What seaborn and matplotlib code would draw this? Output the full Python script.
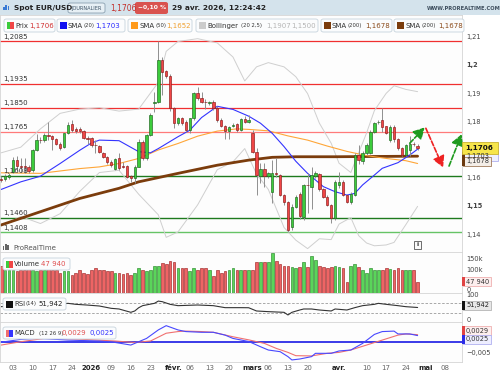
import numpy as np
import pandas as pd
import matplotlib
matplotlib.use("Agg")
import matplotlib.pyplot as plt
import seaborn as sns
from matplotlib.patches import Rectangle, FancyBboxPatch

# ---- data (daily EUR/USD, 28 nov 2025 -> 29 avr 2026) ----
first_day = "2025-11-28"
holidays = ["2025-12-25", "2026-01-01"]

opens = [1.1598, 1.1596, 1.1605, 1.1623, 1.1665, 1.1643, 1.1641, 1.1640, 1.1629, 1.1700,
         1.1737, 1.1734, 1.1752, 1.1749, 1.1738, 1.1723, 1.1712, 1.1761, 1.1792, 1.1775,
         1.1773, 1.1768, 1.1742, 1.1742, 1.1718, 1.1714, 1.1688, 1.1676, 1.1658, 1.1632,
         1.1670, 1.1643, 1.1643, 1.1608, 1.1600, 1.1641, 1.1729, 1.1670, 1.1753, 1.1868,
         1.1872, 1.2019, 1.1980, 1.1963, 1.1848, 1.1797, 1.1812, 1.1800, 1.1771, 1.1812,
         1.1901, 1.1885, 1.1872, 1.1866, 1.1871, 1.1850, 1.1806, 1.1785, 1.1768, 1.1786,
         1.1792, 1.1771, 1.1811, 1.1800, 1.1761, 1.1694, 1.1609, 1.1631, 1.1609, 1.1552,
         1.1617, 1.1611, 1.1540, 1.1517, 1.1425, 1.1499, 1.1545, 1.1463, 1.1576, 1.1570,
         1.1609, 1.1615, 1.1560, 1.1534, 1.1505, 1.1458, 1.1576, 1.1588, 1.1540, 1.1517,
         1.1540, 1.1682, 1.1660, 1.1688, 1.1690, 1.1765, 1.1798, 1.1806, 1.1785, 1.1735,
         1.1782, 1.1738, 1.1706, 1.1682, 1.1700, 1.1722, 1.1714]
highs = [1.1608, 1.1615, 1.1618, 1.1676, 1.1678, 1.1670, 1.1670, 1.1645, 1.1705, 1.1758,
         1.1745, 1.1760, 1.1800, 1.1752, 1.1742, 1.1728, 1.1762, 1.1798, 1.1806, 1.1782,
         1.1780, 1.1772, 1.1748, 1.1745, 1.1735, 1.1718, 1.1692, 1.1680, 1.1665, 1.1672,
         1.1688, 1.1656, 1.1648, 1.1612, 1.1645, 1.1738, 1.1735, 1.1758, 1.1830, 1.1907,
         1.2085, 1.2030, 1.1985, 1.1970, 1.1852, 1.1818, 1.1818, 1.1805, 1.1815, 1.1905,
         1.1925, 1.1905, 1.1880, 1.1875, 1.1876, 1.1856, 1.1815, 1.1790, 1.1785, 1.1795,
         1.1796, 1.1815, 1.1822, 1.1824, 1.1770, 1.1706, 1.1655, 1.1653, 1.1622, 1.1664,
         1.1670, 1.1615, 1.1545, 1.1520, 1.1510, 1.1540, 1.1552, 1.1580, 1.1617, 1.1640,
         1.1625, 1.1620, 1.1565, 1.1540, 1.1510, 1.1595, 1.1623, 1.1595, 1.1545, 1.1550,
         1.1690, 1.1718, 1.1695, 1.1725, 1.1770, 1.1800, 1.1806, 1.1848, 1.1786, 1.1788,
         1.1788, 1.1744, 1.1710, 1.1720, 1.1748, 1.1728, 1.1720]
lows = [1.1585, 1.1590, 1.1598, 1.1618, 1.1625, 1.1623, 1.1617, 1.1620, 1.1622, 1.1695,
        1.1725, 1.1730, 1.1735, 1.1700, 1.1718, 1.1700, 1.1706, 1.1755, 1.1765, 1.1762,
        1.1762, 1.1738, 1.1722, 1.1712, 1.1688, 1.1690, 1.1672, 1.1652, 1.1638, 1.1628,
        1.1630, 1.1635, 1.1600, 1.1585, 1.1582, 1.1638, 1.1665, 1.1665, 1.1750, 1.1835,
        1.1868, 1.1895, 1.1955, 1.1840, 1.1777, 1.1790, 1.1790, 1.1765, 1.1762, 1.1808,
        1.1878, 1.1865, 1.1845, 1.1860, 1.1843, 1.1800, 1.1780, 1.1738, 1.1740, 1.1780,
        1.1765, 1.1766, 1.1795, 1.1795, 1.1688, 1.1540, 1.1582, 1.1570, 1.1600, 1.1511,
        1.1605, 1.1535, 1.1505, 1.1410, 1.1415, 1.1495, 1.1455, 1.1450, 1.1475, 1.1490,
        1.1600, 1.1555, 1.1528, 1.1500, 1.1442, 1.1450, 1.1564, 1.1535, 1.1511, 1.1510,
        1.1535, 1.1650, 1.1652, 1.1682, 1.1685, 1.1760, 1.1792, 1.1765, 1.1755, 1.1730,
        1.1730, 1.1700, 1.1678, 1.1678, 1.1680, 1.1715, 1.1700]
closes = [1.1594, 1.1608, 1.1612, 1.1665, 1.1643, 1.1641, 1.1640, 1.1627, 1.1700, 1.1735,
          1.1734, 1.1753, 1.1749, 1.1738, 1.1723, 1.1706, 1.1759, 1.1789, 1.1771, 1.1768,
          1.1768, 1.1741, 1.1740, 1.1718, 1.1717, 1.1694, 1.1676, 1.1658, 1.1645, 1.1668,
          1.1635, 1.1640, 1.1605, 1.1600, 1.1640, 1.1729, 1.1670, 1.1753, 1.1824, 1.1872,
          1.2019, 1.1978, 1.1962, 1.1848, 1.1795, 1.1812, 1.1797, 1.1771, 1.1812, 1.1901,
          1.1883, 1.1871, 1.1869, 1.1869, 1.1848, 1.1806, 1.1785, 1.1768, 1.1780, 1.1789,
          1.1771, 1.1811, 1.1799, 1.1808, 1.1694, 1.1610, 1.1631, 1.1609, 1.1617, 1.1617,
          1.1615, 1.1540, 1.1517, 1.1416, 1.1499, 1.1534, 1.1465, 1.1576, 1.1574, 1.1611,
          1.1617, 1.1560, 1.1534, 1.1505, 1.1458, 1.1588, 1.1588, 1.1540, 1.1517, 1.1544,
          1.1682, 1.1665, 1.1688, 1.1718, 1.1765, 1.1794, 1.1801, 1.1780, 1.1761, 1.1782,
          1.1738, 1.1706, 1.1682, 1.1717, 1.1720, 1.1721, 1.1706]
volumes_k = [121, 101, 101, 101, 97, 101, 101, 109, 101, 97,
             101, 101, 109, 101, 101, 91, 97, 97, 79, 91,
             101, 91, 86, 101, 109, 101, 103, 97, 97, 91,
             91, 86, 91, 82, 91, 109, 101, 97, 100, 121,
             121, 132, 127, 142, 136, 113, 113, 113, 97, 113,
             101, 109, 112, 101, 76, 101, 91, 97, 101, 109,
             101, 101, 101, 101, 101, 139, 136, 139, 136, 177,
             142, 130, 121, 121, 116, 109, 115, 139, 115, 166,
             147, 121, 115, 109, 115, 121, 116, 113, 51, 121,
             127, 116, 104, 91, 109, 101, 101, 101, 112, 106,
             101, 112, 101, 100, 100, 101, 47.94]

# indicator lines, sampled at candle numbers
sma20_at = [0, 5, 10, 15, 20, 23, 25, 30, 35, 38, 40, 45, 48, 51, 55, 59, 63, 66, 69,
            72, 75, 78, 82, 85, 88, 90, 92, 95, 97, 101, 104, 106]
sma20 = [1.1560, 1.1587, 1.1607, 1.1652, 1.1699, 1.1725, 1.1735, 1.1733, 1.1694, 1.1690,
         1.1705, 1.1747, 1.1770, 1.1815, 1.1855, 1.1844, 1.1820, 1.1795, 1.1759, 1.1712,
         1.1660, 1.1617, 1.1570, 1.1552, 1.1540, 1.1546, 1.1576, 1.1611, 1.1635, 1.1655,
         1.1682, 1.1703]
sma50_at = [0, 10, 20, 25, 30, 35, 40, 45, 50, 55, 60, 63, 68, 73, 78, 83, 88, 93, 98, 103, 106]
sma50 = [1.1619, 1.1617, 1.1634, 1.1640, 1.1652, 1.1670, 1.1700, 1.1723, 1.1749, 1.1767,
         1.1775, 1.1773, 1.1768, 1.1750, 1.1735, 1.1714, 1.1695, 1.1680, 1.1670, 1.1662, 1.1652]
sma200_at = [0, 10, 20, 30, 35, 45, 55, 63, 69, 75, 85, 95, 106]
sma200 = [1.1434, 1.1481, 1.1528, 1.1564, 1.1587, 1.1617, 1.1646, 1.1664, 1.1674, 1.1676,
          1.1676, 1.1677, 1.1678]
boll_at = [0, 5, 10, 15, 20, 25, 30, 35, 40, 42, 45, 50, 55, 59, 62, 65, 68, 72, 75, 78,
           81, 84, 86, 89, 91, 93, 95, 98, 100, 103, 106]
boll_up = [1.1690, 1.1710, 1.1775, 1.1830, 1.1845, 1.1850, 1.1838, 1.1845, 1.1940, 1.2050,
           1.2085, 1.2095, 1.2080, 1.2030, 1.1945, 1.1995, 1.2010, 1.1995, 1.1960, 1.1900,
           1.1795, 1.1724, 1.1653, 1.1620, 1.1690, 1.1760, 1.1840, 1.1901, 1.1928, 1.1915, 1.1907]
boll_low = [1.1430, 1.1464, 1.1439, 1.1474, 1.1553, 1.1620, 1.1628, 1.1543, 1.1470, 1.1390,
            1.1409, 1.1505, 1.1630, 1.1658, 1.1705, 1.1615, 1.1560, 1.1425, 1.1380, 1.1350,
            1.1385, 1.1382, 1.1437, 1.1460, 1.1396, 1.1370, 1.1360, 1.1363, 1.1372, 1.1435, 1.1500]
rsi_at = [0, 5, 10, 15, 17, 19, 22, 25, 28, 30, 33, 34, 35, 36, 39, 40, 41, 43, 45, 50, 54,
          57, 61, 63, 65, 68, 72, 73, 74, 76, 77, 79, 81, 84, 85, 88, 90, 92, 95, 96, 98,
          101, 103, 106]
rsi = [55, 62, 66, 65, 67.5, 63.8, 61, 57.5, 48.8, 46.3, 33.8, 38.8, 51, 58.8, 67.5, 76,
       73.8, 63.8, 58.8, 61.3, 58.8, 51.3, 51.3, 51, 38.8, 36.3, 33.8, 23.8, 33.8, 42.5,
       46.3, 46.3, 42.5, 38.8, 46.3, 42.5, 51.3, 58.8, 63.8, 67.5, 63.8, 58.8, 55, 51.94]
macd_at = [0, 5, 9, 12, 17, 25, 29, 33, 37, 40, 42, 45, 47, 51, 54, 57, 59, 63, 66, 68,
           71, 73, 74, 76, 79, 80, 84, 86, 89, 92, 95, 97, 100, 101, 104, 106]
macd = [-0.0003, 0.0009, 0.0013, 0.0011, 0.0006, 0.0002, -0.0004, -0.0015, 0.0013, 0.0049,
        0.0067, 0.0049, 0.0042, 0.0039, 0.0039, 0.0027, 0.0013, 0.0000, -0.0022, -0.0036,
        -0.0043, -0.0064, -0.0078, -0.0074, -0.0064, -0.0050, -0.0050, -0.0040, -0.0036,
        -0.0008, 0.0030, 0.0042, 0.0044, 0.0032, 0.0032, 0.0025]
signal_at = [0, 5, 11, 20, 29, 34, 38, 42, 45, 47, 51, 54, 59, 63, 67, 70, 73, 75, 79, 83,
             86, 89, 93, 97, 101, 103, 106]
signal = [-0.0015, -0.0001, 0.0013, 0.0010, 0.0002, -0.0004, 0.0002, 0.0035, 0.0042, 0.0044,
          0.0042, 0.0039, 0.0020, 0.0007, -0.0008, -0.0029, -0.0046, -0.0060, -0.0061,
          -0.0050, -0.0046, -0.0036, -0.0015, 0.0006, 0.0027, 0.0032, 0.0029]

resistances = [1.2085, 1.1935, 1.1850, 1.1765]
supports = [1.1608, 1.1460, 1.1408]

# drawn scenario arrows: (start candle, start price, end candle, end price)
arrows = [(104.0, 1.1724, 107.8, 1.1780),
          (108.1, 1.1777, 112.5, 1.1638),
          (114.0, 1.1643, 117.2, 1.1756)]

tick_dates = ["2025-12-03", "2025-12-10", "2025-12-17", "2025-12-24", "2026-01-02",
              "2026-01-09", "2026-01-16", "2026-01-23", "2026-02-02", "2026-02-06",
              "2026-02-13", "2026-02-20", "2026-03-02", "2026-03-06", "2026-03-13",
              "2026-03-20", "2026-04-01", "2026-04-10", "2026-04-17", "2026-04-24",
              "2026-05-01", "2026-05-08"]
tick_labels = ["03", "10", "17", "24", "2026", "09", "16", "23", "févr.", "06", "13", "20",
               "mars", "06", "13", "20", "avr.", "10", "17", "24", "mai", "08"]

# ---------------------------------------------------------------------------
sns.set_theme(style="white")
plt.rcParams["font.family"] = ["DejaVu Sans"]

W, H = 500, 375
fig = plt.figure(figsize=(5, 3.75), dpi=100)
fig.patch.set_facecolor("white")


def fbox(x0, y0, x1, y1):
    return [x0 / W, 1 - y1 / H, (x1 - x0) / W, (y1 - y0) / H]


def ftext(x, y, s, **kw):
    kw.setdefault("fontsize", 5)
    kw.setdefault("va", "center")
    kw.setdefault("color", "#333333")
    fig.text(x / W, 1 - y / H, s, zorder=8, **kw)


def frect(x0, y0, x1, y1, fc, ec="none", lw=0.6, rounded=False, z=6):
    if rounded:
        p = FancyBboxPatch((x0 / W, 1 - y1 / H), (x1 - x0) / W, (y1 - y0) / H,
                           boxstyle="round,pad=0,rounding_size=0.005",
                           transform=fig.transFigure, fc=fc, ec=ec, lw=lw, zorder=z)
    else:
        p = Rectangle((x0 / W, 1 - y1 / H), (x1 - x0) / W, (y1 - y0) / H,
                      transform=fig.transFigure, fc=fc, ec=ec, lw=lw, zorder=z)
    fig.add_artist(p)


dates = pd.bdate_range(first_day, "2026-05-15")
dates = dates[~dates.isin(pd.to_datetime(holidays))]
day_pos = {d.strftime("%Y-%m-%d"): i for i, d in enumerate(dates)}
xt = [day_pos[d] for d in tick_dates]

ax_p = fig.add_axes(fbox(0, 15, 462, 252))
ax_v = fig.add_axes(fbox(0, 252, 462, 293), sharex=ax_p)
ax_r = fig.add_axes(fbox(0, 293, 462, 322), sharex=ax_p)
ax_m = fig.add_axes(fbox(0, 322, 462, 362), sharex=ax_p)

for ax in (ax_p, ax_v, ax_r, ax_m):
    ax.set_facecolor("#fdfdfd")
    for s in ax.spines.values():
        s.set_color("#d5d5d5")
        s.set_linewidth(0.6)
    ax.tick_params(left=False, right=False, bottom=False, labelleft=False,
                   labelbottom=False, length=0)
    ax.set_yticks([])
    ax.set_xlim(-0.3, 117.3)

idx = np.arange(len(closes))
o, h, l, c = map(np.array, (opens, highs, lows, closes))
up = c >= o

# ---- price panel ----
ax_p.set_ylim(1.1338, 1.2179)
for lvl in resistances:
    col = "#ff7a7a" if lvl == 1.1765 else "#f03030"
    ax_p.axhline(lvl, color=col, lw=0.9, zorder=1)
for lvl in supports:
    col = "#66c466" if lvl == 1.1408 else "#1e7a1e"
    ax_p.axhline(lvl, color=col, lw=1.0, zorder=1)
for lvl in resistances + supports:
    ax_p.annotate(f"{lvl:.4f}".replace(".", ","), xy=(0.006, lvl),
                  xycoords=("axes fraction", "data"), xytext=(0, 1.2),
                  textcoords="offset points", va="bottom", ha="left",
                  fontsize=5, color="#333333", zorder=6)

sns.lineplot(x=boll_at, y=boll_up, ax=ax_p, color="#cfcfcf", lw=0.7, zorder=2)
sns.lineplot(x=boll_at, y=boll_low, ax=ax_p, color="#cfcfcf", lw=0.7, zorder=2)
sns.lineplot(x=sma200_at, y=sma200, ax=ax_p, color="#7b3c0c", lw=2.0, zorder=2)
sns.lineplot(x=sma50_at, y=sma50, ax=ax_p, color="#ffa638", lw=0.8, zorder=2)
sns.lineplot(x=sma20_at, y=sma20, ax=ax_p, color="#3434ff", lw=0.8, zorder=2)

ax_p.vlines(idx, l, h, color="#8f8f8f", lw=0.7, zorder=3)
body = np.maximum(np.abs(c - o), 0.00018)
ax_p.bar(idx[up], body[up], bottom=np.minimum(o, c)[up], width=0.62,
         color="#3ccc3c", edgecolor="#1d641d", lw=0.45, zorder=4)
ax_p.bar(idx[~up], body[~up], bottom=np.minimum(o, c)[~up], width=0.62,
         color="#f04646", edgecolor="#8a1818", lw=0.45, zorder=4)

arrow_cols = ["#1f9a1f", "#ee2222", "#1f9a1f"]
for (x0, y0, x1, y1), col in zip(arrows, arrow_cols):
    ax_p.annotate("", xy=(x1, y1), xytext=(x0, y0), annotation_clip=False,
                  arrowprops=dict(arrowstyle="-|>,head_length=0.55,head_width=0.3",
                                  color=col, lw=1.2, linestyle=(0, (3, 1.2)),
                                  shrinkA=0, shrinkB=0), zorder=5)

ax_p.set_ylabel("")
ax_p.set_xlabel("")


def rlabel(ax, y, s, dy=0, **kw):
    kw.setdefault("fontsize", 4.8)
    kw.setdefault("color", "#444444")
    ax.annotate(s, xy=(1, y), xycoords=("axes fraction", "data"), xytext=(3.3, dy),
                textcoords="offset points", va="center", ha="left",
                annotation_clip=False, **kw)


for v, s in [(1.21, "1,21"), (1.20, "1,2"), (1.19, "1,19"), (1.18, "1,18"),
             (1.16, "1,16"), (1.15, "1,15"), (1.14, "1,14")]:
    rlabel(ax_p, v, s, fontweight="bold" if s in ("1,2", "1,15") else "normal")

# ---- volume ----
vol = np.array(volumes_k) * 1000
ax_v.set_ylim(0, 182000)
ax_v.bar(idx[up], vol[up], width=0.7, color="#5ad55a", edgecolor="#2a8a2a", lw=0.45)
ax_v.bar(idx[~up], vol[~up], width=0.7, color="#ee6464", edgecolor="#a02828", lw=0.45)
rlabel(ax_v, 150000, "150k")
rlabel(ax_v, 100000, "100k")
rlabel(ax_v, 0, "0", dy=2.5)

# ---- RSI ----
ax_r.set_ylim(-2.6, 106.4)
ax_r.axhline(70, color="#9a9a9a", lw=0.6, ls=(0, (3, 2)))
ax_r.axhline(30, color="#9a9a9a", lw=0.6, ls=(0, (3, 2)))
sns.lineplot(x=rsi_at, y=rsi, ax=ax_r, color="#333333", lw=0.8)
rlabel(ax_r, 100, "100", dy=-0.5)
rlabel(ax_r, 0, "0", dy=1)

# ---- MACD ----
ax_m.set_ylim(-0.00867, 0.00825)
ax_m.axhline(0, color="#2b2be6", lw=1.3)
sns.lineplot(x=signal_at, y=signal, ax=ax_m, color="#f07070", lw=0.8)
sns.lineplot(x=macd_at, y=macd, ax=ax_m, color="#4848ff", lw=0.8)
rlabel(ax_m, -0.005, "\u22120,005", dy=0)

for ax in (ax_v, ax_r, ax_m):
    ax.set_ylabel("")
    ax.set_xlabel("")

ax_m.set_xticks(xt)
ax_m.set_xticklabels(tick_labels)
ax_m.tick_params(labelbottom=True, bottom=False, length=0, pad=2.0, labelsize=5,
                 labelcolor="#666666")
for t in ax_m.get_xticklabels():
    if not t.get_text().isdigit() or t.get_text() == "2026":
        t.set_fontweight("bold")
        t.set_color("#222222")
ax_m.set_xlim(-0.3, 117.3)

# ---- header ----
frect(0, 0, 500, 15, "#d4e3ec", z=6)
for k, hh in enumerate([3, 5, 4]):
    frect(3 + 2.4 * k, 10 - hh, 4.6 + 2.4 * k, 10, "#3a7bd5", z=7)
ftext(14, 8, "Spot EUR/USD", fontsize=5.3, fontweight="bold", color="#222222")
frect(68, 3, 105, 13, "#e7f0f5", ec="#8aa0b0", rounded=True, z=7)
ftext(71, 8.2, "JOURNALIER", fontsize=3.6, color="#3d5366")
ftext(110, 8, "1,1706", fontsize=5.5, color="#c4302b")
frect(135, 2, 168, 14, "#d9534f", rounded=True, z=7)
ftext(137.5, 8, "\u22120,10 %", fontsize=4.3, fontweight="bold", color="white")
ftext(172, 8, "29 avr. 2026, 12:24:42", fontsize=5.3, fontweight="bold", color="#222222")
ftext(427, 9, "WWW.PROREALTIME.COM", fontsize=3.7, fontweight="bold", color="#3d4d5d")

# ---- legend row ----
legend_items = [
    (4, 55, ["#3ccc3c", "#f04646"], [("Prix", 15, "#333333", 5), ("1,1706", 29, "#d03030", 5)]),
    (57, 125, ["#1010f0"], [("SMA", 68, "#333333", 5), ("(20)", 84, "#333333", 3.8),
                            ("1,1703", 95, "#2a2aff", 5)]),
    (128, 192, ["#ff9a1a"], [("SMA", 139, "#333333", 5), ("(50)", 155, "#333333", 3.8),
                             ("1,1652", 166, "#f0a030", 5)]),
    (196, 318, ["#cccccc"], [("Bollinger", 207, "#333333", 5), ("(20 2,5)", 241, "#333333", 3.8),
                             ("1,1907", 266, "#b5b5b5", 5), ("1,1500", 291, "#b5b5b5", 5)]),
    (321, 392, ["#7b3c0c"], [("SMA", 332, "#333333", 5), ("(200)", 348, "#333333", 3.8),
                             ("1,1678", 365, "#8a4a1a", 5)]),
    (394, 464, ["#7b3c0c"], [("SMA", 405, "#333333", 5), ("(200)", 421, "#333333", 3.8),
                             ("1,1678", 438, "#8a4a1a", 5)]),
]
for x0, x1, sq, texts in legend_items:
    frect(x0, 19, x1, 32, "#fbfcfd", ec="#c6d3dc", rounded=True, z=6)
    w = 6.5 / len(sq)
    for k, col in enumerate(sq):
        frect(x0 + 3 + w * k, 22, x0 + 3 + w * (k + 1), 29, col, z=7)
    for s, x, col, fs in texts:
        ftext(x, 25.7, s, color=col, fontsize=fs)

# ---- price tags on the right ----
frect(462, 151, 498, 161, "#eef0ff", ec="#b0b0ee", z=6)
ftext(466, 156, "1,1703", fontsize=4.8, color="#333333")
frect(463, 157, 491, 166, "#f4eee8", ec="#a07a5a", z=7)
frect(462, 152, 464.5, 166, "#6b3a10", z=7)
ftext(466, 161.5, "1,1678", fontsize=4.8, color="#333333")
frect(462, 142, 498, 154, "#f6e54a", ec="#c9b230", z=7)
ftext(465, 148, "1,1706", fontsize=5.2, fontweight="bold", color="#111111")

frect(463, 277, 491, 286, "#fdeeee", ec="#efb0b0", z=6)
frect(462, 277, 464.5, 286, "#e04444", z=7)
ftext(466, 281.5, "47 940", fontsize=4.8, color="#333333")

frect(463, 301, 491, 310, "#e7e7e7", ec="#b5b5b5", z=6)
frect(462, 301, 464.5, 310, "#111111", z=7)
ftext(466, 305.5, "51,942", fontsize=4.8, color="#222222")

frect(463, 326, 491, 335, "#fdeeee", ec="#efb0b0", z=6)
frect(462, 326, 464.5, 335, "#e04444", z=7)
ftext(466, 330.5, "0,0029", fontsize=4.8, color="#333333")
frect(463, 335, 491, 344, "#eeeeff", ec="#b0b0f0", z=6)
frect(462, 335, 464.5, 344, "#2b2be6", z=7)
ftext(466, 339.5, "0,0025", fontsize=4.8, color="#333333")

# ---- panel legends ----
for k, hh in enumerate([4, 6, 5]):
    frect(3 + 2.2 * k, 250 - hh, 4.4 + 2.2 * k, 250, "#666666", z=7)
ftext(13, 247.5, "ProRealTime", fontsize=5, color="#555555")
frect(414, 241, 421, 249, "#fafafa", ec="#555555", z=7)
ftext(416.3, 245, "i", fontsize=4.5, fontweight="bold", color="#333333")

frect(3, 258, 70, 270, "#fbfcfd", ec="#c6d3dc", rounded=True, z=6)
frect(6, 261, 9.2, 267.5, "#3ccc3c", z=7)
frect(9.2, 261, 12.5, 267.5, "#f04646", z=7)
ftext(14, 264, "Volume", fontsize=5)
ftext(41, 264, "47 940", fontsize=5, color="#e05050")

frect(3, 298, 66, 310, "#fbfcfd", ec="#c6d3dc", rounded=True, z=6)
frect(6, 301, 12.5, 307.5, "#111111", z=7)
ftext(14, 304, "RSI", fontsize=5)
ftext(25.5, 304, "(14)", fontsize=3.8)
ftext(38, 304, "51,942", fontsize=5, color="#222222")

frect(3, 327, 116, 339, "#fbfcfd", ec="#c6d3dc", rounded=True, z=6)
frect(6, 330, 9.2, 336.5, "#f07070", z=7)
frect(9.2, 330, 12.5, 336.5, "#3434ff", z=7)
ftext(14, 333, "MACD", fontsize=5)
ftext(39, 333, "(12 26 9)", fontsize=3.8)
ftext(62, 333, "0,0029", fontsize=5, color="#e05050")
ftext(89, 333, "0,0025", fontsize=5, color="#3434ff")

fig.savefig("out.png", dpi=100)
